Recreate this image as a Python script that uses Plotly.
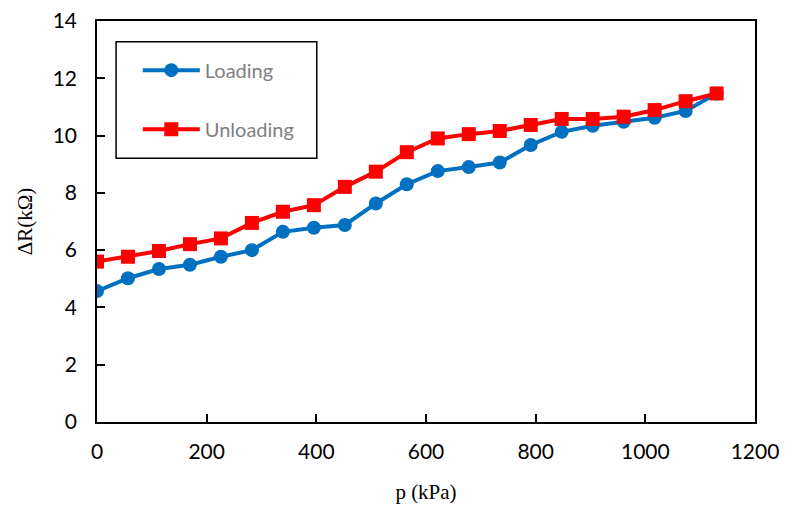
import plotly.graph_objects as go

p_kpa = [0, 56.5, 113, 169.5, 226, 282.5, 339, 395.5, 452, 508.5, 565,
         621.5, 678, 734.5, 791, 847.5, 904, 960.5, 1017, 1073.5, 1130]
loading = [4.57, 5.02, 5.34, 5.49, 5.77, 6.0, 6.64, 6.78, 6.88, 7.63, 8.3,
           8.76, 8.9, 9.06, 9.67, 10.13, 10.34, 10.48, 10.62, 10.86, 11.47]
unloading = [5.6, 5.77, 5.97, 6.21, 6.41, 6.95, 7.34, 7.57, 8.21, 8.74, 9.42,
             9.9, 10.05, 10.16, 10.37, 10.58, 10.58, 10.66, 10.89, 11.2, 11.47]

x_ticks = [0, 200, 400, 600, 800, 1000, 1200]
y_ticks = [0, 2, 4, 6, 8, 10, 12, 14]

fig = go.Figure()
fig.add_trace(go.Scatter(
    x=p_kpa, y=loading, name="Loading", mode="lines+markers",
    line=dict(color="#0070C0", width=4),
    marker=dict(symbol="circle", size=14, color="#0070C0"),
    legendgroup="a"))
fig.add_trace(go.Scatter(
    x=p_kpa, y=unloading, name="Unloading", mode="lines+markers",
    line=dict(color="#FF0000", width=4),
    marker=dict(symbol="square", size=14, color="#FF0000"),
    legendgroup="b"))

fig.add_shape(type="rect", xref="paper", yref="paper",
              x0=0.029, x1=0.334, y0=0.658, y1=0.948,
              line=dict(color="black", width=1.5), fillcolor="rgba(0,0,0,0)")

tick_font = dict(family="Lato", size=21, color="black")
title_font = dict(family="Liberation Serif", size=21, color="black")

fig.update_layout(
    width=783, height=496,
    margin=dict(l=89, r=36, t=13, b=82),
    paper_bgcolor="white", plot_bgcolor="white",
    showlegend=True,
    legend=dict(x=0.062, y=0.926, xanchor="left", yanchor="top",
                bgcolor="rgba(0,0,0,0)", borderwidth=0,
                font=dict(family="Lato", size=20, color="#7F7F7F"),
                tracegroupgap=30, itemwidth=57),
    xaxis=dict(range=[0, 1200], tickvals=x_ticks, ticks="inside", ticklen=8,
               tickwidth=1.5, tickcolor="black", showline=True, linecolor="black",
               linewidth=1.5, mirror=True, showgrid=False, zeroline=False,
               tickfont=tick_font, ticklabelstandoff=10, automargin=False,
               ticklabeloverflow="allow",
               title=dict(text="p (kPa)", font=title_font, standoff=23)),
    yaxis=dict(range=[0, 14], tickvals=y_ticks, ticks="inside", ticklen=8,
               tickwidth=1.5, tickcolor="black", showline=True, linecolor="black",
               linewidth=1.5, mirror=True, showgrid=False, zeroline=False,
               tickfont=tick_font, ticklabelstandoff=14, automargin=False,
               ticklabeloverflow="allow",
               title=dict(text="ΔR(kΩ)", font=title_font, standoff=14)),
)
fig.write_html("out.html")
